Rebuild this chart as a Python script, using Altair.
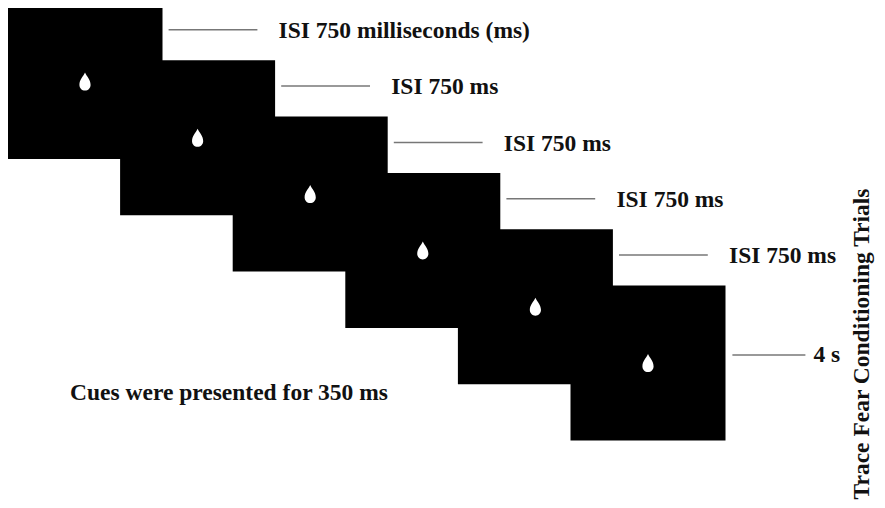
import pandas as pd
import altair as alt

# trial order and the label written next to each trial screen
trials = [1, 2, 3, 4, 5, 6]
labels = ["ISI 750 milliseconds (ms)", "ISI 750 ms", "ISI 750 ms",
          "ISI 750 ms", "ISI 750 ms", "4 s"]
cue_note = "Cues were presented for 350 ms"
side_title = "Trace Fear Conditioning Trials"

df = pd.DataFrame({"trial": trials, "label": labels})

FONT = "Liberation Serif"
FSIZE = 23.5
LINE_COLOR = "#777777"

# white drop cue, drawn in the unit box [-1, 1]
DROP = ("M0,-1 C0.2,-0.55 0.62,-0.2 0.62,0.38 "
        "A0.62,0.62 0 0 1 -0.62,0.38 C-0.62,-0.2 -0.2,-0.55 0,-1 Z")

x = alt.X("trial:Q", scale=alt.Scale(domain=[1, 6], range=[77.0, 640.0]), axis=None)
y = alt.Y("trial:Q", scale=alt.Scale(domain=[1, 6], range=[73.5, 355.0]), axis=None)

base = alt.Chart(df).encode(x=x, y=y)

screens = base.mark_square(size=155 * 155, color="black", opacity=1)

drops = base.mark_point(shape=DROP, size=18 * 18, filled=True,
                        color="white", opacity=1)

isi = base.transform_filter(alt.datum.trial < 6)
isi_lines = isi.mark_rule(color=LINE_COLOR, strokeWidth=1.5,
                          xOffset=83.6, x2Offset=172.4, yOffset=-51.7).encode(
    x2=alt.X2("trial:Q")
)
isi_text = isi.mark_text(align="left", baseline="alphabetic", dx=193.6, dy=-43.5,
                         font=FONT, fontSize=FSIZE, fontWeight="bold",
                         color="#111111").encode(text="label:N")

last = base.transform_filter(alt.datum.trial == 6)
last_line = last.mark_rule(color=LINE_COLOR, strokeWidth=1.5,
                           xOffset=84.4, x2Offset=157.4, yOffset=-8).encode(
    x2=alt.X2("trial:Q")
)
last_text = last.mark_text(align="left", baseline="alphabetic", dx=165.4, dy=-1,
                           font=FONT, fontSize=FSIZE, fontWeight="bold",
                           color="#111111").encode(text="label:N")

notes = pd.DataFrame({"note": [cue_note]})
cue_text = alt.Chart(notes).mark_text(
    align="left", baseline="alphabetic", font=FONT, fontSize=FSIZE,
    fontWeight="bold", color="#111111"
).encode(x=alt.value(62), y=alt.value(392), text="note:N")

titles = pd.DataFrame({"title": [side_title]})
side_text = alt.Chart(titles).mark_text(
    align="center", baseline="alphabetic", angle=270, font=FONT, fontSize=FSIZE,
    fontWeight="bold", color="#111111"
).encode(x=alt.value(861), y=alt.value(336), text="title:N")

chart = alt.layer(
    screens, drops, isi_lines, isi_text, last_line, last_text, cue_text, side_text
).properties(
    width=869,
    height=492,
    autosize=alt.AutoSizeParams(type="none"),
    padding=0,
    background="white",
).configure_view(stroke=None)

chart.save("out.html", embed_options={"renderer": "svg", "actions": False})
